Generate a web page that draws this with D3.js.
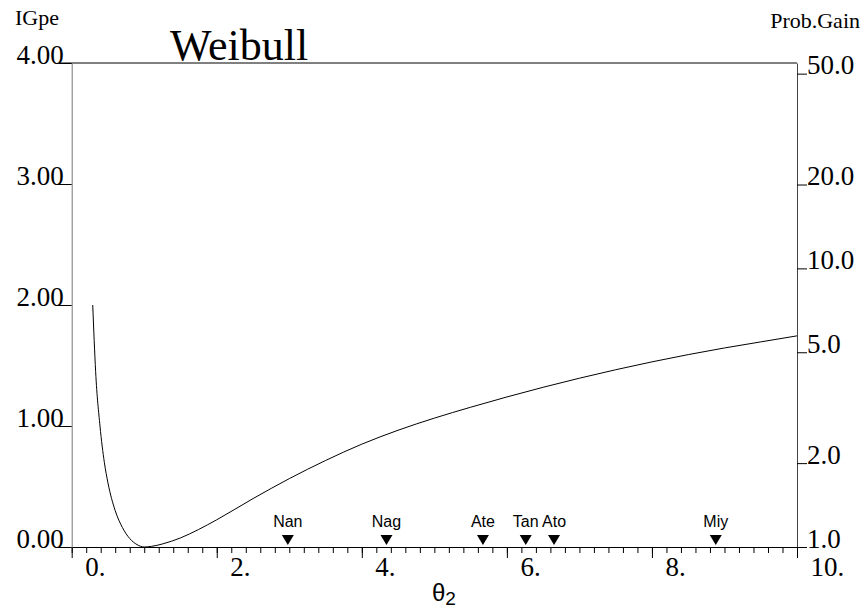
<!DOCTYPE html>
<html>
<head>
<meta charset="utf-8">
<script src="https://cdn.jsdelivr.net/npm/d3@7"></script>
<style>
  body { margin: 0; background: #fff; }
  svg { display: block; }
</style>
</head>
<body>
<svg id="chart" width="862" height="612"></svg>
<script>
// curve: IGpe against theta2
var theta = [0.29, 0.33, 0.39, 0.45, 0.5, 0.6, 0.7, 0.8, 0.9, 1.0, 1.1, 1.25, 1.5, 1.75, 2.0, 2.5, 3.0, 3.5, 4.0, 4.5, 5.0, 5.5, 6.0, 6.5, 7.0, 7.5, 8.0, 8.5, 9.0, 9.5, 10.0];
var igpe  = [2.00, 1.45, 1.00, 0.70, 0.53, 0.30, 0.16, 0.07, 0.02, 0.00, 0.005, 0.025, 0.075, 0.145, 0.225, 0.40, 0.565, 0.715, 0.85, 0.965, 1.065, 1.155, 1.24, 1.32, 1.395, 1.465, 1.53, 1.59, 1.645, 1.695, 1.745];

// stations marked on the axis
var stations = ["Nan", "Nag", "Ate", "Tan", "Ato", "Miy"];
var stationTheta = [2.98, 4.34, 5.67, 6.26, 6.65, 8.88];

// axis ticks
var xMajor = [0, 2, 4, 6, 8, 10];
var xMinor = d3.range(0, 10.01, 0.2);
var yLeftTicks = [0, 1, 2, 3, 4];
var yRightTicks = [1, 2, 5, 10, 20, 50];

var svg = d3.select("#chart");
var serif = "'Liberation Serif', 'Times New Roman', serif";
var sans = "'Liberation Sans', Arial, sans-serif";

var plotL = 71.7, plotR = 797, plotT = 63, plotB = 547;

var x = d3.scaleLinear().domain([0, 10]).range([plotL, plotR]);
var yL = d3.scaleLinear().domain([0, 4]).range([plotB, plotT]);
var yR = d3.scaleLog().domain([1, Math.exp(4)]).range([plotB, plotT]);

// top frame line
svg.append("line")
    .attr("x1", 60).attr("x2", plotR)
    .attr("y1", plotT).attr("y2", plotT)
    .attr("stroke", "#000");

// x axis: minor ticks, then major ticks with labels
var gx = svg.append("g").attr("transform", `translate(0,${plotB})`);
gx.call(d3.axisBottom(x).tickValues(xMinor).tickSize(6).tickSizeOuter(0).tickFormat(""));
gx.select(".domain").attr("stroke", "#000");
var gxMaj = svg.append("g").attr("transform", `translate(0,${plotB})`);
gxMaj.call(d3.axisBottom(x).tickValues(xMajor).tickSize(11).tickFormat(function(d){return d + ".";}));
gxMaj.select(".domain").remove();
gxMaj.selectAll("text")
    .attr("text-anchor", "start")
    .attr("x", 13)
    .attr("y", 29)
    .attr("dy", 0)
    .style("font", "27px " + serif)
    .attr("fill", "#000");

// left axis
var gl = svg.append("g").attr("transform", `translate(${plotL},0)`);
gl.call(d3.axisLeft(yL).tickValues(yLeftTicks).tickSize(13).tickSizeOuter(0).tickFormat(d3.format(".2f")));
gl.select(".domain").attr("stroke", "#777");
gl.selectAll("text")
    .attr("x", -8)
    .attr("dy", 0)
    .style("font", "27px " + serif)
    .attr("fill", "#000");

// right axis (probability gain, log)
var gr = svg.append("g").attr("transform", `translate(${plotR},0)`);
gr.call(d3.axisRight(yR).tickValues(yRightTicks).tickSize(10).tickSizeOuter(0).tickFormat(d3.format(".1f")));
gr.select(".domain").attr("stroke", "#444");
gr.selectAll("text")
    .attr("x", 10)
    .attr("dy", 0)
    .style("font", "27px " + serif)
    .attr("fill", "#000");

// curve
var line = d3.line()
    .x(function(d){return x(d[0]);})
    .y(function(d){return yL(d[1]);})
    .curve(d3.curveMonotoneX);
svg.append("path")
    .datum(d3.zip(theta, igpe))
    .attr("d", line)
    .attr("fill", "none")
    .attr("stroke", "#000")
    .attr("stroke-width", 1);

// station markers
var marks = svg.append("g")
    .selectAll("g")
    .data(d3.zip(stations, stationTheta))
    .enter()
    .append("g")
    .attr("transform", function(d){return `translate(${x(d[1])},${plotB})`;});
marks.append("path")
    .attr("d", "M-6,-12L6,-12L0,-2Z")
    .attr("fill", "#000");
marks.append("text")
    .attr("y", -20)
    .attr("text-anchor", "middle")
    .style("font", "16px " + sans)
    .text(function(d){return d[0];});

// titles
svg.append("text")
    .attr("x", 170).attr("y", 60)
    .style("font", "44px " + serif)
    .text("Weibull");
svg.append("text")
    .attr("x", 15).attr("y", 25)
    .style("font", "22px " + serif)
    .text("IGpe");
svg.append("text")
    .attr("x", 860).attr("y", 28)
    .attr("text-anchor", "end")
    .style("font", "22px " + serif)
    .text("Prob.Gain");
var xl = svg.append("text")
    .attr("x", 432).attr("y", 601)
    .style("font", "24px " + sans);
xl.append("tspan").text("θ");
xl.append("tspan").attr("dy", 4).style("font-size", "19px").text("2");
</script>
</body>
</html>
